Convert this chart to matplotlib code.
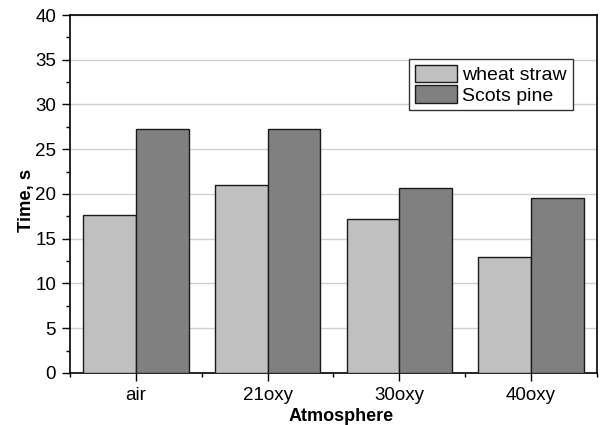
import numpy as np
import matplotlib.pyplot as plt
from matplotlib.ticker import MultipleLocator

plt.rcParams['font.family'] = ['Liberation Sans', 'DejaVu Sans']

categories = ['air', '21oxy', '30oxy', '40oxy']
wheat_straw = [17.7, 21.0, 17.2, 13.0]
scots_pine = [27.3, 27.3, 20.7, 19.5]

fig = plt.figure(figsize=(6.01, 4.25), dpi=100)
ax = fig.add_axes([0.1165, 0.1224, 0.8768, 0.8423])

x = np.arange(len(categories))
w = 0.4
ax.bar(x - w/2, wheat_straw, w, color='#c0c0c0', edgecolor='#1a1a1a', lw=1, label='wheat straw', zorder=3)
ax.bar(x + w/2, scots_pine, w, color='#808080', edgecolor='#1a1a1a', lw=1, label='Scots pine', zorder=3)

ax.set_xlim(-0.5, 3.5)
ax.set_ylim(0, 40)
ax.set_xticks(x)
ax.set_xticklabels(categories)
ax.xaxis.set_minor_locator(MultipleLocator(1, offset=0.5))
ax.yaxis.set_major_locator(MultipleLocator(5))
ax.yaxis.set_minor_locator(MultipleLocator(2.5))
ax.grid(axis='y', color='#d0d0d0', lw=1, zorder=0)
ax.tick_params(which='both', direction='out', labelsize=13.5, width=1)
ax.tick_params(which='major', length=6, pad=4)
ax.tick_params(which='minor', length=3)
for s in ax.spines.values():
    s.set_linewidth(1.2)

ax.set_xlabel('Atmosphere', fontsize=13, fontweight='bold')
ax.set_ylabel('Time, s', fontsize=13.3, fontweight='bold')
ax.xaxis.set_label_coords(0.514, -0.098)
ax.yaxis.set_label_coords(-0.066, 0.483)

leg = ax.legend(loc='upper left', bbox_to_anchor=(0.643, 0.877), fontsize=14, frameon=True,
                fancybox=False, edgecolor='#333333', framealpha=1, handlelength=2.2,
                handleheight=1.0, handletextpad=0.25, borderpad=0.3, labelspacing=0.05,
                borderaxespad=0)
leg.get_frame().set_linewidth(1)

fig.savefig('out.png', dpi=100)
